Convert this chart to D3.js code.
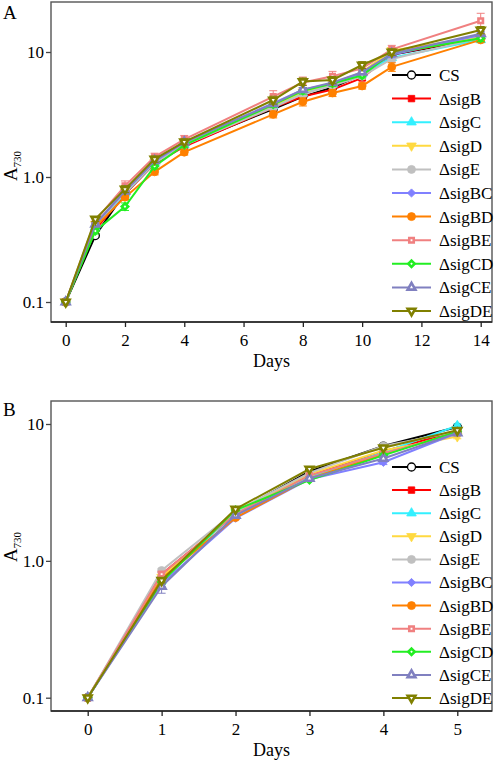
<!DOCTYPE html>
<html><head><meta charset="utf-8">
<script src="https://cdn.jsdelivr.net/npm/d3@7/dist/d3.min.js"></script>
<style>body{margin:0;background:#fff}svg{display:block}</style>
</head><body>
<svg id="c" width="498" height="763"></svg>
<script>
// ---- data ----
const seriesNames = ["CS","ΔsigB","ΔsigC","ΔsigD","ΔsigE","ΔsigBC","ΔsigBD","ΔsigBE","ΔsigCD","ΔsigCE","ΔsigDE"];
const seriesColors = ["#000000","#ff0000","#33f0ff","#ffd940","#c0c0c0","#8080ff","#ff8000","#f08080","#22ee22","#8080c0","#808000"];
const seriesShapes = ["circle","square","triangle","triangleDown","circle","diamond","circle","square","diamond","triangle","triangleDown"];
const seriesOpen   = [true,false,false,false,false,false,false,true,true,true,true];

const daysA = [0,1,2,3,4,7,8,9,10,11,14];
const valuesA = [
  [0.1,0.34,0.75,1.30,1.80,3.50,4.40,5.20,6.60,9.5,12.8],
  [0.1,0.38,0.73,1.28,1.75,3.60,4.40,5.00,6.20,9.6,13.0],
  [0.1,0.40,0.74,1.30,1.80,3.70,4.70,5.50,6.70,9.0,12.5],
  [0.1,0.42,0.76,1.32,1.85,3.75,4.80,5.60,6.90,10.3,13.2],
  [0.1,0.41,0.75,1.30,1.80,3.60,4.60,5.40,6.40,8.8,13.0],
  [0.1,0.42,0.78,1.33,1.88,3.90,5.00,5.60,6.80,9.5,13.7],
  [0.1,0.40,0.69,1.10,1.58,3.17,4.00,4.70,5.35,7.6,12.5],
  [0.1,0.45,0.85,1.45,2.00,4.40,5.70,6.40,7.40,10.5,17.8],
  [0.1,0.37,0.58,1.22,1.80,3.80,4.90,5.60,6.50,9.8,12.9],
  [0.1,0.42,0.77,1.35,1.90,3.85,5.00,5.70,6.90,9.7,14.0],
  [0.1,0.46,0.80,1.39,1.91,4.13,5.80,5.97,7.87,10.0,15.0]
];
const errorsA = [
  [0,0.01,0.03,0.05,0.06,0.15,0.2,0.2,0.3,0.5,0.6],
  [0,0.01,0.03,0.05,0.06,0.15,0.2,0.2,0.3,0.5,0.6],
  [0,0.01,0.03,0.05,0.06,0.15,0.2,0.2,0.3,0.5,0.6],
  [0,0.01,0.03,0.05,0.06,0.15,0.2,0.2,0.3,0.5,0.6],
  [0,0.01,0.03,0.05,0.06,0.15,0.2,0.2,0.3,0.5,0.6],
  [0,0.01,0.03,0.05,0.06,0.15,0.2,0.2,0.3,0.5,0.6],
  [0,0.01,0.03,0.06,0.08,0.2,0.3,0.3,0.3,0.6,0.6],
  [0,0.02,0.08,0.10,0.15,0.50,0.6,0.6,0.5,0.8,2.6],
  [0,0.02,0.04,0.06,0.08,0.2,0.3,0.3,0.3,0.6,0.8],
  [0,0.01,0.03,0.05,0.06,0.15,0.2,0.2,0.3,0.5,0.6],
  [0,0.02,0.05,0.08,0.10,0.30,0.4,0.4,0.5,0.6,1.0]
];

const daysB = [0,1,2,3,4,5];
const valuesB = [
  [0.1,0.75,2.25,4.50,6.90,9.5],
  [0.1,0.80,2.20,4.20,6.30,8.9],
  [0.1,0.72,2.25,4.10,6.20,9.7],
  [0.1,0.76,2.30,4.30,6.40,8.1],
  [0.1,0.85,2.30,4.40,6.90,8.8],
  [0.1,0.68,2.05,3.95,5.25,8.6],
  [0.1,0.74,2.07,4.00,6.00,8.7],
  [0.1,0.80,2.20,4.20,6.10,8.6],
  [0.1,0.70,2.35,3.90,5.90,8.8],
  [0.1,0.65,2.15,4.00,5.60,8.6],
  [0.1,0.72,2.39,4.69,6.70,9.0]
];
const errorsB = [
  [0,0.03,0.05,0.1,0.2,0.2],
  [0,0.03,0.05,0.1,0.2,0.2],
  [0,0.03,0.05,0.1,0.2,0.3],
  [0,0.03,0.05,0.1,0.2,0.3],
  [0,0.03,0.05,0.1,0.2,0.2],
  [0,0.03,0.05,0.1,0.2,0.2],
  [0,0.03,0.05,0.1,0.2,0.2],
  [0,0.03,0.05,0.1,0.2,0.2],
  [0,0.03,0.05,0.1,0.2,0.2],
  [0,0.07,0.05,0.1,0.2,0.2],
  [0,0.03,0.05,0.1,0.2,0.2]
];
const yTickValues = [0.1,1,10];
const yTickLabels = ["0.1","1.0","10"];
const xTicksA = [0,2,4,6,8,10,12,14];
const xTicksB = [0,1,2,3,4,5];

// ---- drawing ----
const FONT = "'Liberation Serif', Tinos, 'Times New Roman', 'DejaVu Serif', serif";
const svg = d3.select("#c");
function symbolPath(shape, size){
  const t = {circle:d3.symbolCircle, square:d3.symbolSquare, triangle:d3.symbolTriangle,
             triangleDown:d3.symbolTriangle, diamond:d3.symbolSquare}[shape];
  return d3.symbol().type(t).size(size)();
}
function drawMarker(g, i, x, y){
  const open = seriesOpen[i], col = seriesColors[i], sh = seriesShapes[i];
  const rot = sh==="triangleDown" ? " rotate(180)" : (sh==="diamond" ? " rotate(45)" : "");
  const m = g.append("path").attr("transform",`translate(${x},${y})${rot}`);
  if (i===0){
    m.attr("d", symbolPath("circle", 50)).attr("fill","#fff").attr("stroke","#000").attr("stroke-width",1.3);
  } else if (open){
    m.attr("d", symbolPath(sh, sh==="triangle"||sh==="triangleDown"?26:20)).attr("fill","#fff").attr("stroke",col).attr("stroke-width",2.6);
  } else {
    m.attr("d", symbolPath(sh, sh==="diamond"?34:(sh==="square"?42:(sh==="circle"?50:40)))).attr("fill",col).attr("stroke",col).attr("stroke-width",0.8);
  }
}
function txt(sel){ return sel.style("font-family", FONT).attr("fill","#000"); }

function panel(opt){
  const {L,R,T,B,xDomain,xRange,days,values,errors,xTicks,yTop,yBot,label,labelY,ylabY,legendX,legendY0,legendStep} = opt;
  const x = d3.scaleLinear().domain(xDomain).range(xRange);
  const y = d3.scaleLog().domain([0.1,10]).range([yBot,yTop]);
  const g = svg.append("g");
  values.forEach((vals,i)=>{
    const line = d3.line().x((d,k)=>x(days[k])).y(d=>y(d));
    vals.forEach((v,k)=>{
      const e = errors[i][k]; if(!e) return;
      const xx = x(days[k]);
      g.append("line").attr("x1",xx).attr("x2",xx).attr("y1",y(v+e)).attr("y2",y(Math.max(v-e,0.01))).attr("stroke",seriesColors[i]).attr("stroke-width",1);
      [v+e, v-e].forEach(w=>g.append("line").attr("x1",xx-4).attr("x2",xx+4).attr("y1",y(w)).attr("y2",y(w)).attr("stroke",seriesColors[i]).attr("stroke-width",1));
    });
    g.append("path").datum(vals).attr("d",line).attr("fill","none").attr("stroke",seriesColors[i]).attr("stroke-width",2);
    vals.forEach((v,k)=>drawMarker(g,i,x(days[k]),y(v)));
  });
  g.append("rect").attr("x",L).attr("y",T).attr("width",R-L).attr("height",B-T).attr("fill","none").attr("stroke","#555").attr("stroke-width",1.4);
  g.append("line").attr("x1",L).attr("x2",R).attr("y1",B).attr("y2",B).attr("stroke","#222").attr("stroke-width",1.6);
  const xa = g.append("g").attr("transform",`translate(0,${B})`).call(d3.axisBottom(x).tickValues(xTicks).tickSize(5).tickSizeOuter(0).tickFormat(d3.format("d")));
  xa.attr("font-family",null);
  xa.select(".domain").remove();
  xa.selectAll("line").attr("stroke","#222").attr("stroke-width",1.3);
  txt(xa.selectAll("text")).attr("font-size",17).attr("dy",null).attr("y",24);
  const ya = g.append("g").attr("transform",`translate(${L},0)`).call(d3.axisLeft(y).tickValues(yTickValues).tickSize(5).tickSizeOuter(0).tickFormat((d,i)=>yTickLabels[i]));
  ya.attr("font-family",null);
  ya.select(".domain").remove();
  ya.selectAll("line").attr("stroke","#444").attr("stroke-width",1.3);
  txt(ya.selectAll("text")).attr("font-size",17).attr("x",-7).attr("dy","0.34em");
  txt(g.append("text")).attr("x",(L+R)/2).attr("y",B+45).attr("text-anchor","middle").attr("font-size",18).text("Days");
  const yl = txt(g.append("text")).attr("transform",`translate(17,${ylabY}) rotate(-90)`).attr("text-anchor","middle").attr("font-size",19);
  yl.append("tspan").text("A");
  yl.append("tspan").attr("font-size",11).attr("dy",4).text("730");
  txt(g.append("text")).attr("x",3).attr("y",labelY).attr("font-size",19).text(label);
  seriesNames.forEach((n,i)=>{
    const ly = legendY0 + i*legendStep;
    g.append("line").attr("x1",legendX).attr("x2",legendX+39).attr("y1",ly).attr("y2",ly).attr("stroke",seriesColors[i]).attr("stroke-width",2);
    drawMarker(g,i,legendX+19.5,ly);
    txt(g.append("text")).attr("x",legendX+47).attr("y",ly).attr("dy","0.35em").attr("font-size",17).text(n);
  });
}

panel({L:51,R:492,T:2,B:322,xDomain:[0,14],xRange:[65.7,480.7],days:daysA,values:valuesA,errors:errorsA,
  xTicks:xTicksA,yTop:52,yBot:302,label:"A",labelY:19,ylabY:166,legendX:392,legendY0:75,legendStep:23.6});
panel({L:51,R:492,T:401,B:711,xDomain:[0,5],xRange:[87.7,457.3],days:daysB,values:valuesB,errors:errorsB,
  xTicks:xTicksB,yTop:424,yBot:697.7,label:"B",labelY:416,ylabY:547,legendX:392,legendY0:467,legendStep:23.1});
</script>
</body></html>
